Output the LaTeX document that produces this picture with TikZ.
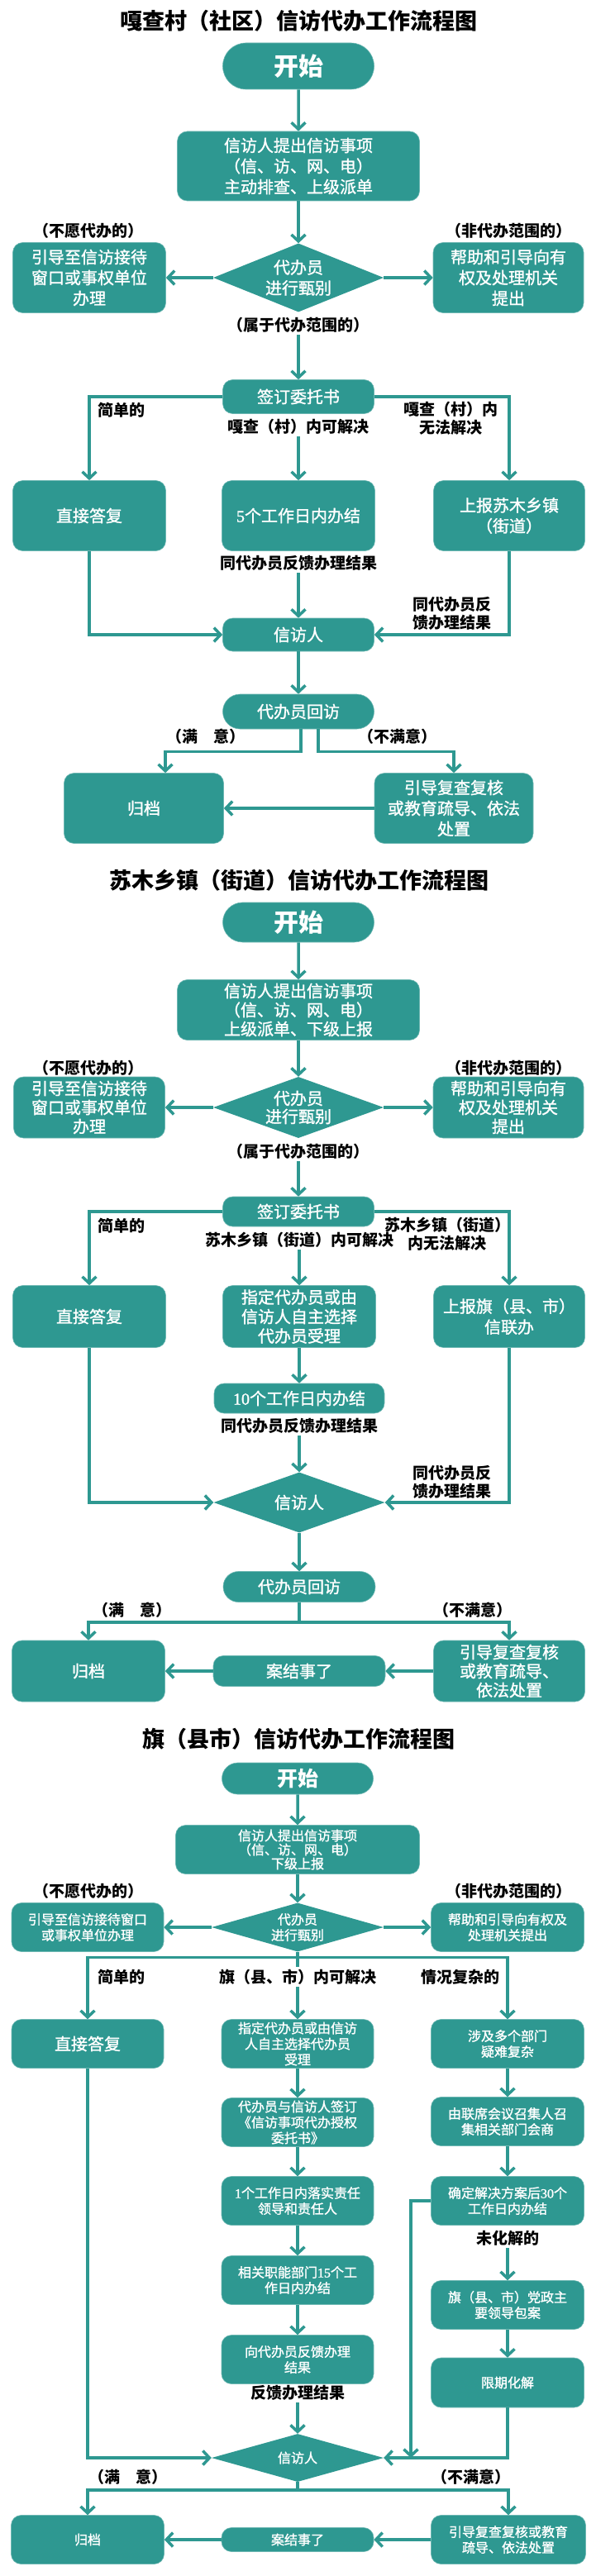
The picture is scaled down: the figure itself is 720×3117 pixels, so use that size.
\documentclass[tikz,border=0pt]{standalone}
\usepackage{fontspec}
\setmainfont{Noto Sans CJK SC}
\newfontfamily\boxfont[FakeBold=1.3]{Noto Sans CJK SC}
\newfontfamily\numfont[FakeBold=1.3]{Liberation Serif}
\usetikzlibrary{shapes.geometric,shapes.misc,arrows.meta}
\definecolor{flowteal}{RGB}{46,152,145}
\newcommand{\fsz}[2]{\fontsize{#1}{#2}\selectfont}

\begin{document}
\begin{tikzpicture}[
  x=1pt, y=-1pt,
  box/.style={fill=flowteal, draw=flowteal!70!white, line width=0.6pt, rounded corners=12pt,
    text=white, align=center, inner sep=0pt, font=\boxfont\fsz{20}{25}},
  sbox/.style={box, font=\boxfont\fsz{16}{19}},
  pill/.style={rounded rectangle, fill=flowteal, draw=flowteal!70!white, line width=0.6pt,
    text=white, align=center, inner sep=0pt, font=\boxfont\fsz{20}{25}},
  dia/.style={diamond, fill=flowteal, text=white, align=center, inner sep=0pt, font=\boxfont\fsz{20}{25}},
  lbl/.style={font=\bfseries\fsz{19}{22}, align=center, inner sep=3pt},
  ttl/.style={font=\bfseries\fsz{27}{30}},
  flow/.style={draw=flowteal, line width=3.5pt},
  arr/.style={flow, -{Straight Barb[length=8pt,width=17pt]}}
]
\useasboundingbox (0,0) rectangle (720,3117);

% 嘎查村
\node[ttl] (title1) at (361,25) {嘎查村（社区）信访代办工作流程图};
\node[pill, minimum width=183pt, minimum height=56pt, font=\bfseries\fsz{30}{34}] (start1) at (361,80) {开始};
\node[box, minimum width=293pt, minimum height=84pt] (raise1) at (361,201)
  {信访人提出信访事项\\（信、访、网、电）\\主动排查、上级派单};
\node[lbl] (nowill1) at (107,279) {（不愿代办的）};
\node[lbl] (noscope1) at (615,279) {（非代办范围的）};
\node[box, minimum width=185pt, minimum height=85pt] (refer1) at (108,336)
  {引导至信访接待\\窗口或事权单位\\办理};
\node[dia, aspect=2.5, minimum width=206pt, minimum height=83pt] (check1) at (361,336) {代办员\\进行甄别};
\node[box, minimum width=182pt, minimum height=85pt] (help1) at (615,336)
  {帮助和引导向有\\权及处理机关\\提出};
\node[lbl] (inscope1) at (361,393) {（属于代办范围的）};
\node[box, minimum width=183pt, minimum height=41pt] (sign1) at (361,480) {签订委托书};
\node[lbl, anchor=west] (simple1) at (115,496) {简单的};
\node[lbl] (inside1) at (361,516) {嘎查（村）内可解决};
\node[lbl] (outside1) at (545,506) {嘎查（村）内\\无法解决};
\node[box, minimum width=185pt, minimum height=85pt] (reply1) at (108,624) {直接答复};
\node[box, minimum width=185pt, minimum height=85pt] (do1) at (361,624) {{\numfont 5}个工作日内办结};
\node[box, minimum width=183pt, minimum height=85pt] (up1) at (616,624) {上报苏木乡镇\\（街道）};
\node[lbl] (fb1) at (361,681) {同代办员反馈办理结果};
\node[lbl] (fbr1) at (547,742) {同代办员反\\馈办理结果};
\node[box, minimum width=183pt, minimum height=40pt] (pet1) at (361,768) {信访人};
\node[pill, minimum width=183pt, minimum height=42pt] (visit1) at (361,861) {代办员回访};
\node[lbl] (ok1) at (249,891) {（满　意）};
\node[lbl] (nok1) at (481,891) {（不满意）};
\node[box, minimum width=193pt, minimum height=85pt] (file1) at (174,978) {归档};
\node[box, minimum width=192pt, minimum height=85pt] (review1) at (549,978)
  {引导复查复核\\或教育疏导、依法\\处置};

\draw[arr] (start1) -- (raise1);
\draw[arr] (raise1) -- (check1);
\draw[arr] (check1) -- (refer1);
\draw[arr] (check1) -- (help1);
\draw[arr] (inscope1) -- (sign1);
\draw[arr] (sign1.west) -| (reply1.north);
\draw[arr] (sign1.east) -| (up1.north);
\draw[arr] (inside1) -- (do1);
\draw[arr] (fb1) -- (pet1);
\draw[arr] (reply1.south) |- (pet1.west);
\draw[arr] (up1.south) |- (pet1.east);
\draw[arr] (pet1) -- (visit1);
\draw[arr] ([xshift=3pt]visit1.south) -- ++(0,27) -| ([xshift=26pt]file1.north);
\draw[arr] ([xshift=24pt]visit1.south) -- ++(0,27) -| (review1.north);
\draw[arr] (review1) -- (file1);

% 苏木乡镇
\node[ttl] (title2) at (362,1065) {苏木乡镇（街道）信访代办工作流程图};
\node[pill, minimum width=183pt, minimum height=48pt, font=\bfseries\fsz{30}{34}] (start2) at (361,1116) {开始};
\node[box, minimum width=293pt, minimum height=73pt, font=\boxfont\fsz{20}{23}] (raise2) at (361,1222)
  {信访人提出信访事项\\（信、访、网、电）\\上级派单、下级上报};
\node[lbl] (nowill2) at (107,1292) {（不愿代办的）};
\node[lbl] (noscope2) at (615,1292) {（非代办范围的）};
\node[box, minimum width=183pt, minimum height=74pt, font=\boxfont\fsz{20}{23}] (refer2) at (108,1340)
  {引导至信访接待\\窗口或事权单位\\办理};
\node[dia, aspect=2.7, minimum width=206pt, minimum height=74pt, font=\boxfont\fsz{20}{22}] (check2) at (361,1340) {代办员\\进行甄别};
\node[box, minimum width=182pt, minimum height=74pt, font=\boxfont\fsz{20}{23}] (help2) at (615,1340)
  {帮助和引导向有\\权及处理机关\\提出};
\node[lbl] (inscope2) at (361,1393) {（属于代办范围的）};
\node[box, minimum width=183pt, minimum height=36pt] (sign2) at (361,1466) {签订委托书};
\node[lbl, anchor=west] (simple2) at (115,1483) {简单的};
\node[lbl] (inside2) at (362,1500) {苏木乡镇（街道）内可解决};
\node[lbl] (outside2) at (541,1493) {苏木乡镇（街道）\\内无法解决};
\node[box, minimum width=185pt, minimum height=75pt] (reply2) at (108,1593) {直接答复};
\node[box, minimum width=185pt, minimum height=75pt, font=\boxfont\fsz{20}{23.5}] (assign2) at (362,1593)
  {指定代办员或由\\信访人自主选择\\代办员受理};
\node[box, minimum width=183pt, minimum height=75pt] (up2) at (616,1593) {上报旗（县、市）\\信联办};
\node[box, minimum width=206pt, minimum height=36pt] (do2) at (362,1692) {{\numfont 10}个工作日内办结};
\node[lbl] (fb2) at (362,1725) {同代办员反馈办理结果};
\node[lbl] (fbr2) at (547,1793) {同代办员反\\馈办理结果};
\node[dia, aspect=3, minimum width=207pt, minimum height=73pt] (pet2) at (362,1818) {信访人};
\node[pill, minimum width=184pt, minimum height=37pt] (visit2) at (362,1920) {代办员回访};
\node[lbl] (ok2) at (160,1948) {（满　意）};
\node[lbl] (nok2) at (572,1948) {（不满意）};
\node[box, minimum width=185pt, minimum height=74pt] (file2) at (107,2022) {归档};
\node[box, minimum width=208pt, minimum height=37pt] (close2) at (362,2022) {案结事了};
\node[box, minimum width=183pt, minimum height=74pt, font=\boxfont\fsz{20}{23}] (review2) at (616,2022)
  {引导复查复核\\或教育疏导、\\依法处置};

\draw[arr] (start2) -- (raise2);
\draw[arr] (raise2) -- (check2);
\draw[arr] (check2) -- (refer2);
\draw[arr] (check2) -- (help2);
\draw[arr] (inscope2) -- (sign2);
\draw[arr] (sign2.west) -| (reply2.north);
\draw[arr] (sign2.east) -| (up2.north);
\draw[arr] (inside2) -- (assign2);
\draw[arr] (assign2) -- (do2);
\draw[arr] (fb2) -- (pet2);
\draw[arr] (reply2.south) |- (pet2.west);
\draw[arr] (up2.south) |- (pet2.east);
\draw[arr] (pet2) -- (visit2);
\draw[arr] (visit2.south) -- ++(0,24) -| (file2.north);
\draw[arr] (visit2.south) -- ++(0,24) -| (review2.north);
\draw[arr] (review2) -- (close2);
\draw[arr] (close2) -- (file2);

% 旗（县市）
\node[ttl] (title3) at (361,2104) {旗（县市）信访代办工作流程图};
\node[pill, minimum width=183pt, minimum height=38pt, font=\bfseries\fsz{25}{28}] (start3) at (360,2152) {开始};
\node[box, minimum width=295pt, minimum height=59pt, font=\boxfont\fsz{16}{17}] (raise3) at (360,2238)
  {信访人提出信访事项\\（信、访、网、电）\\下级上报};
\node[lbl] (nowill3) at (107,2288) {（不愿代办的）};
\node[lbl] (noscope3) at (615,2288) {（非代办范围的）};
\node[sbox, minimum width=184pt, minimum height=59pt] (refer3) at (106,2332)
  {引导至信访接待窗口\\或事权单位办理};
\node[dia, aspect=3.5, minimum width=208pt, minimum height=59pt, font=\boxfont\fsz{16}{19}] (check3) at (360,2332) {代办员\\进行甄别};
\node[sbox, minimum width=185pt, minimum height=59pt] (help3) at (614,2332)
  {帮助和引导向有权及\\处理机关提出};
\node[lbl, anchor=west] (simple3) at (115,2392) {简单的};
\node[lbl] (inside3) at (360,2392) {旗（县、市）内可解决};
\node[lbl] (complex3) at (557,2392) {情况复杂的};
\node[box, minimum width=184pt, minimum height=59pt] (reply3) at (106,2473) {直接答复};
\node[sbox, minimum width=184pt, minimum height=59pt] (assign3) at (360,2473)
  {指定代办员或由信访\\人自主选择代办员\\受理};
\node[sbox, minimum width=185pt, minimum height=59pt] (multi3) at (614,2473) {涉及多个部门\\疑难复杂};
\node[sbox, minimum width=184pt, minimum height=59pt] (sign3) at (360,2568)
  {代办员与信访人签订\\《信访事项代办授权\\委托书》};
\node[sbox, minimum width=185pt, minimum height=59pt] (meet3) at (614,2567)
  {由联席会议召集人召\\集相关部门会商};
\node[sbox, minimum width=184pt, minimum height=59pt] (lead3) at (360,2663)
  {{\numfont 1}个工作日内落实责任\\领导和责任人};
\node[sbox, minimum width=185pt, minimum height=59pt] (solve3) at (614,2663)
  {确定解决方案后{\numfont 30}个\\工作日内办结};
\node[lbl] (unres3) at (614,2708) {未化解的};
\node[sbox, minimum width=184pt, minimum height=59pt] (dept3) at (360,2759)
  {相关职能部门{\numfont 15}个工\\作日内办结};
\node[sbox, minimum width=185pt, minimum height=59pt] (pack3) at (614,2789)
  {旗（县、市）党政主\\要领导包案};
\node[sbox, minimum width=184pt, minimum height=59pt] (back3) at (360,2855)
  {向代办员反馈办理\\结果};
\node[sbox, minimum width=185pt, minimum height=60pt] (limit3) at (614,2883) {限期化解};
\node[lbl] (fb3) at (360,2895) {反馈办理结果};
\node[dia, aspect=3.5, minimum width=208pt, minimum height=58pt, font=\boxfont\fsz{16}{19}] (pet3) at (360,2974) {信访人};
\node[lbl] (ok3) at (155,2997) {（满　意）};
\node[lbl] (nok3) at (570,2997) {（不满意）};
\node[sbox, minimum width=185pt, minimum height=59pt] (file3) at (106,3073) {归档};
\node[sbox, minimum width=184pt, minimum height=29pt] (close3) at (360,3073) {案结事了};
\node[sbox, minimum width=187pt, minimum height=59pt] (review3) at (615,3073)
  {引导复查复核或教育\\疏导、依法处置};
\coordinate (merge3) at (497,2974);

\draw[arr] (start3) -- (raise3);
\draw[arr] (raise3) -- (check3);
\draw[arr] (check3) -- (refer3);
\draw[arr] (check3) -- (help3);
\draw[flow] (check3.south) -- (inside3);
\draw[arr] ([yshift=-7pt]check3.south) -| (reply3.north);
\draw[arr] ([yshift=-7pt]check3.south) -| (multi3.north);
\draw[arr] (inside3) -- (assign3);
\draw[arr] (assign3) -- (sign3);
\draw[arr] (sign3) -- (lead3);
\draw[arr] (lead3) -- (dept3);
\draw[arr] (dept3) -- (back3);
\draw[arr] (fb3) -- (pet3);
\draw[arr] (multi3) -- (meet3);
\draw[arr] (meet3) -- (solve3);
\draw[arr] (unres3) -- (pack3);
\draw[arr] (pack3) -- (limit3);
\draw[arr] (solve3.west) -| (merge3);
\draw[arr] (reply3.south) |- (pet3.west);
\draw[arr] (limit3.south) |- (pet3.east);
\draw[arr] (pet3.south) -- ++(0,10) -| (file3.north);
\draw[arr] (pet3.south) -- ++(0,10) -| (review3.north);
\draw[arr] (review3) -- (close3);
\draw[arr] (close3) -- (file3);
\end{tikzpicture}
\end{document}
